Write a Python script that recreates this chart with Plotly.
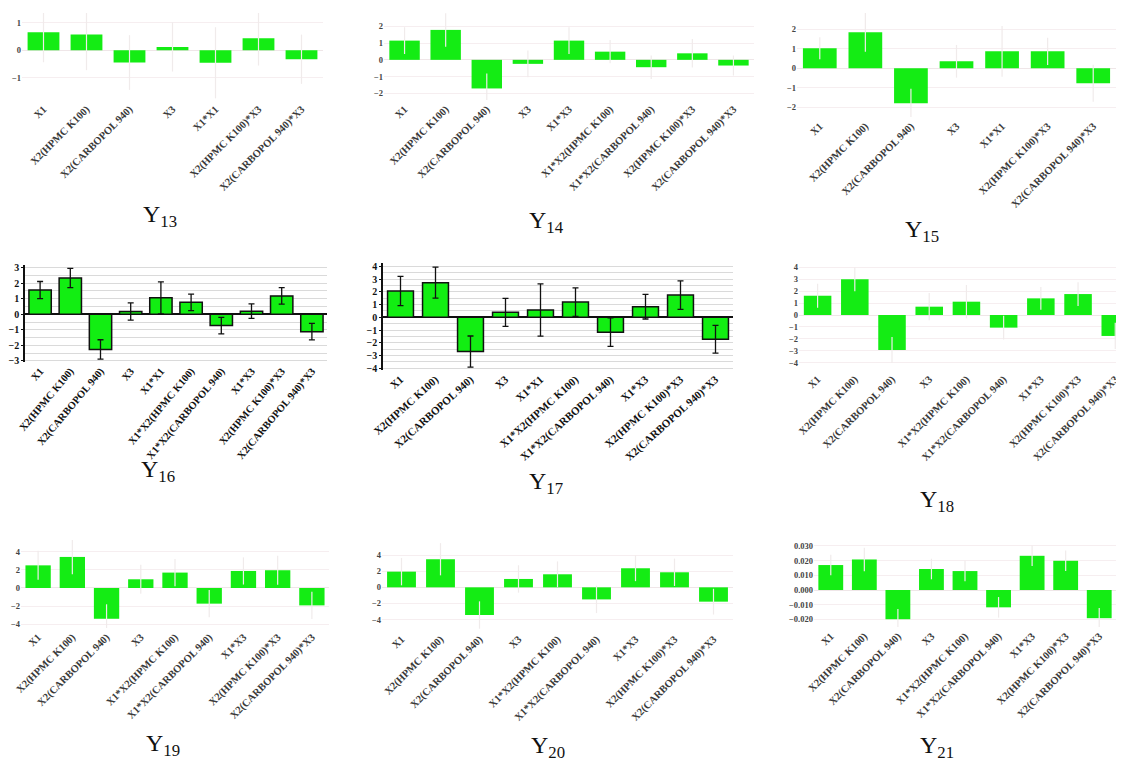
import plotly.graph_objects as go

# page body has an 8px margin: figure is drawn 8px in from the top-left corner
OFF = 8
W, H = 1124 - 2 * OFF, 770 - 2 * OFF

# ---------------- data ----------------
cats13 = ["X1", "X2(HPMC K100)", "X2(CARBOPOL 940)", "X3", "X1*X1",
          "X2(HPMC K100)*X3", "X2(CARBOPOL 940)*X3"]
vals13 = [0.66, 0.57, -0.45, 0.12, -0.46, 0.44, -0.33]
errs13 = [1.1, 1.3, 1.0, 0.9, 1.3, 1.0, 0.9]

cats14 = ["X1", "X2(HPMC K100)", "X2(CARBOPOL 940)", "X3", "X1*X3",
          "X1*X2(HPMC K100)", "X1*X2(CARBOPOL 940)", "X2(HPMC K100)*X3",
          "X2(CARBOPOL 940)*X3"]
vals14 = [1.15, 1.79, -1.71, -0.24, 1.15, 0.49, -0.44, 0.39, -0.34]
errs14 = [0.8, 1.0, 0.9, 0.8, 0.8, 0.7, 0.7, 0.85, 0.6]

cats15 = ["X1", "X2(HPMC K100)", "X2(CARBOPOL 940)", "X3", "X1*X1",
          "X2(HPMC K100)*X3", "X2(CARBOPOL 940)*X3"]
vals15 = [1.03, 1.85, -1.8, 0.36, 0.87, 0.87, -0.77]
errs15 = [0.57, 1.0, 0.75, 0.84, 1.3, 0.7, 0.95]

cats16 = ["X1", "X2(HPMC K100)", "X2(CARBOPOL 940)", "X3", "X1*X1",
          "X1*X2(HPMC K100)", "X1*X2(CARBOPOL 940)", "X1*X3",
          "X2(HPMC K100)*X3", "X2(CARBOPOL 940)*X3"]
vals16 = [1.56, 2.33, -2.26, 0.18, 1.06, 0.77, -0.73, 0.2, 1.18, -1.12]
errs16 = [0.55, 0.62, 0.62, 0.55, 1.03, 0.53, 0.53, 0.47, 0.53, 0.53]

cats17 = ["X1", "X2(HPMC K100)", "X2(CARBOPOL 940)", "X3", "X1*X1",
          "X1*X2(HPMC K100)", "X1*X2(CARBOPOL 940)", "X1*X3",
          "X2(HPMC K100)*X3", "X2(CARBOPOL 940)*X3"]
vals17 = [2.07, 2.73, -2.7, 0.39, 0.58, 1.2, -1.17, 0.84, 1.75, -1.73]
errs17 = [1.15, 1.22, 1.23, 1.1, 2.06, 1.12, 1.12, 0.97, 1.12, 1.09]

cats18 = ["X1", "X2(HPMC K100)", "X2(CARBOPOL 940)", "X3",
          "X1*X2(HPMC K100)", "X1*X2(CARBOPOL 940)", "X1*X3",
          "X2(HPMC K100)*X3", "X2(CARBOPOL 940)*X3"]
vals18 = [1.62, 3.0, -2.94, 0.7, 1.12, -1.06, 1.4, 1.76, -1.76]
errs18 = [1.0, 1.0, 1.1, 1.15, 1.4, 1.0, 0.95, 1.0, 1.1]

cats19 = ["X1", "X2(HPMC K100)", "X2(CARBOPOL 940)", "X3",
          "X1*X2(HPMC K100)", "X1*X2(CARBOPOL 940)", "X1*X3",
          "X2(HPMC K100)*X3", "X2(CARBOPOL 940)*X3"]
vals19 = [2.5, 3.43, -3.4, 0.96, 1.7, -1.73, 1.88, 1.96, -1.92]
errs19 = [1.6, 1.9, 1.6, 1.6, 1.5, 1.5, 1.5, 1.6, 1.5]

cats20 = ["X1", "X2(HPMC K100)", "X2(CARBOPOL 940)", "X3",
          "X1*X2(HPMC K100)", "X1*X2(CARBOPOL 940)", "X1*X3",
          "X2(HPMC K100)*X3", "X2(CARBOPOL 940)*X3"]
vals20 = [1.95, 3.49, -3.44, 1.04, 1.62, -1.5, 2.37, 1.87, -1.78]
errs20 = [1.7, 2.0, 1.7, 1.7, 1.6, 1.7, 1.6, 1.7, 1.6]

cats21 = ["X1", "X2(HPMC K100)", "X2(CARBOPOL 940)", "X3",
          "X1*X2(HPMC K100)", "X1*X2(CARBOPOL 940)", "X1*X3",
          "X2(HPMC K100)*X3", "X2(CARBOPOL 940)*X3"]
vals21 = [0.017, 0.0208, -0.0199, 0.0143, 0.0129, -0.0118, 0.0233, 0.0199, -0.0192]
errs21 = [0.007, 0.008, 0.007, 0.007, 0.007, 0.007, 0.007, 0.007, 0.007]

titles = ["13", "14", "15", "16", "17", "18", "19", "20", "21"]

# ------------- layout config (page pixels) -------------
panels = [
    dict(c=cats13, v=vals13, e=errs13, box=(22, 323, 13, 100), yr=[-1.82, 1.36], dt=1, crisp=False, ang=-45, fs=10.5, xhi=None, t=(160, 216)),
    dict(c=cats14, v=vals14, e=errs14, box=(384, 754, 13, 100), yr=[-2.4, 2.8], dt=1, crisp=False, ang=-45, fs=10.5, xhi=None, t=(546, 222)),
    dict(c=cats15, v=vals15, e=errs15, box=(797, 1119, 13, 117), yr=[-2.5, 2.84], dt=1, crisp=False, ang=-45, fs=10.5, xhi=None, t=(922, 231)),
    dict(c=cats16, v=vals16, e=errs16, box=(25, 327, 265, 362), yr=[-3.07, 3.17], dt=1, crisp=True, ang=-50, fs=10.5, xhi=None, t=(158, 471)),
    dict(c=cats17, v=vals17, e=errs17, box=(383, 733, 263, 370), yr=[-4.15, 4.28], dt=1, crisp=True, ang=-42, fs=11, xhi=None, t=(546, 483)),
    dict(c=cats18, v=vals18, e=errs18, box=(799, 1124, 263, 370), yr=[-4.62, 4.37], dt=1, crisp=False, ang=-45, fs=10.5, xhi=8.02, t=(937, 501)),
    dict(c=cats19, v=vals19, e=errs19, box=(21, 329, 540, 628), yr=[-4.42, 5.3], dt=2, crisp=False, ang=-45, fs=10.5, xhi=None, t=(163, 745)),
    dict(c=cats20, v=vals20, e=errs20, box=(382, 733, 540, 630), yr=[-5.3, 5.88], dt=2, crisp=False, ang=-45, fs=10.5, xhi=None, t=(548, 747)),
    dict(c=cats21, v=vals21, e=errs21, box=(814, 1120, 542, 627), yr=[-0.0252, 0.0327], dt=0.01, crisp=False, ang=-45, fs=10.5, xhi=None, t=(937, 747)),
]

fig = go.Figure()
layout = dict(width=W, height=H, margin=dict(l=0, r=0, t=0, b=0),
              paper_bgcolor="white", plot_bgcolor="white", showlegend=False)
annotations = []

for i, p in enumerate(panels, start=1):
    sfx = "" if i == 1 else str(i)
    crisp = p["crisp"]
    fig.add_trace(go.Bar(
        x=p["c"], y=p["v"], xaxis="x" + sfx, yaxis="y" + sfx,
        width=0.74,
        marker=dict(color="#12ee12" if crisp else "#14ec14",
                    line=dict(color="#111111" if crisp else "#14ec14", width=1.5 if crisp else 0)),
        error_y=dict(type="data", array=p["e"], visible=True,
                     color="#111111" if crisp else "#f0ebeb",
                     thickness=1.3 if crisp else 1.2, width=3 if crisp else 0),
    ))
    l, r, t, b = p["box"]
    n = len(p["c"])
    fl, fr = (l - OFF) / W, min((r - OFF) / W, 1.0)
    xhi = p["xhi"] if p["xhi"] is not None else n - 0.5
    layout["xaxis" + sfx] = dict(
        domain=[fl, fr], anchor="y" + sfx,
        type="category", range=[-0.5, xhi], tickangle=p["ang"],
        tickfont=dict(family="Liberation Serif", size=p["fs"],
                      color="#111111" if crisp else "#3a3a3a", weight="bold"),
        showgrid=False, zeroline=False, showline=False, ticks="",
        automargin=False, fixedrange=True,
    )
    ycfg = dict(
        domain=[1 - (b - OFF) / H, 1 - (t - OFF) / H], anchor="x" + sfx,
        range=p["yr"], dtick=p["dt"], tick0=0,
        tickfont=dict(family="Liberation Serif", size=10 if crisp else 8.5,
                      color="#111111" if crisp else "#444444", weight="bold"),
        showgrid=True, gridcolor="#dadada" if crisp else "#f6eef0", gridwidth=1,
        zeroline=True, zerolinecolor="#111111" if crisp else "#efe6e8",
        zerolinewidth=1.5 if crisp else 1,
        showline=crisp, linecolor="#111111", linewidth=1.5,
        ticks="outside" if crisp else "", ticklen=2, tickcolor="#111111",
        automargin=False, fixedrange=True,
    )
    if p["dt"] == 0.01:
        ycfg["tickformat"] = ".3f"
    if crisp:
        ycfg["minor"] = dict(dtick=0.5, showgrid=True, gridcolor="#dadada")
    layout["yaxis" + sfx] = ycfg
    cx, cy = p["t"]
    annotations.append(dict(
        text="Y<sub>" + titles[i - 1] + "</sub>", xref="paper", yref="paper",
        x=(cx - OFF) / W, y=1 - (cy - OFF) / H, xanchor="center", yanchor="middle",
        showarrow=False, font=dict(family="Liberation Serif", size=24, color="#111111"),
    ))

layout["annotations"] = annotations
fig.update_layout(**layout)
fig.write_html("out.html")
